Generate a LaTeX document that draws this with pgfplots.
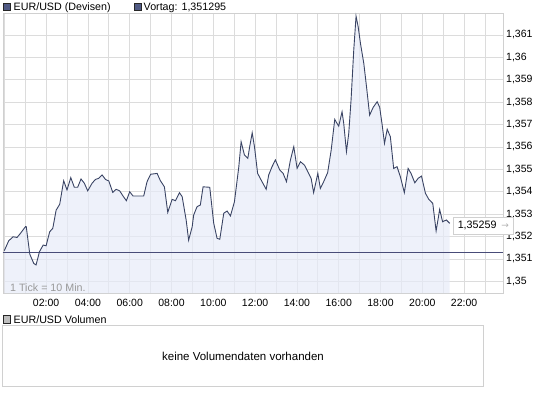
\documentclass[border=0pt]{standalone}
\usepackage{pgfplots}
\pgfplotsset{compat=1.18}
\usepackage{pgfplotstable}
\usepackage{fontspec}
\setmainfont{Liberation Sans}
\newfontfamily\dejavu{DejaVu Sans}
\definecolor{linecol}{RGB}{58,68,100}
\definecolor{fillcol}{RGB}{231,235,248}
\definecolor{prevcol}{RGB}{72,76,120}
\definecolor{gridcol}{RGB}{220,220,220}
\definecolor{framecol}{RGB}{208,208,208}
\definecolor{sqcol}{RGB}{80,90,132}
\definecolor{volsq}{RGB}{190,190,190}

\pgfplotstableread{
h v
0.00 1.35137
0.21 1.35181
0.42 1.35199
0.61 1.35196
0.77 1.35214
1.01 1.35244
1.05 1.35244
1.22 1.35121
1.41 1.35080
1.52 1.35073
1.68 1.35132
1.86 1.35162
2.00 1.35159
2.17 1.35221
2.32 1.35237
2.48 1.35318
2.65 1.35344
2.84 1.35449
3.00 1.35408
3.18 1.35463
3.35 1.35420
3.51 1.35420
3.67 1.35457
3.83 1.35438
3.99 1.35404
4.20 1.35438
4.36 1.35455
4.52 1.35460
4.68 1.35475
4.84 1.35455
5.00 1.35448
5.19 1.35397
5.35 1.35411
5.52 1.35404
5.68 1.35381
5.84 1.35360
6.00 1.35400
6.16 1.35381
6.67 1.35381
6.83 1.35445
7.00 1.35478
7.31 1.35482
7.47 1.35449
7.66 1.35422
7.82 1.35308
8.03 1.35366
8.19 1.35360
8.38 1.35396
8.51 1.35378
8.70 1.35274
8.82 1.35184
8.99 1.35244
9.06 1.35296
9.22 1.35333
9.38 1.35341
9.51 1.35422
9.83 1.35420
10.02 1.35259
10.18 1.35192
10.31 1.35188
10.50 1.35304
10.66 1.35314
10.82 1.35292
11.01 1.35355
11.22 1.35512
11.33 1.35623
11.49 1.35564
11.65 1.35549
11.74 1.35601
11.86 1.35663
11.97 1.35601
12.12 1.35482
12.33 1.35445
12.53 1.35411
12.65 1.35475
12.81 1.35512
12.97 1.35542
13.18 1.35497
13.34 1.35482
13.50 1.35445
13.69 1.35542
13.85 1.35601
14.01 1.35504
14.17 1.35534
14.36 1.35519
14.56 1.35482
14.68 1.35460
14.80 1.35396
15.00 1.35482
15.12 1.35415
15.28 1.35445
15.47 1.35485
15.64 1.35586
15.81 1.35723
15.92 1.35705
16.00 1.35693
16.16 1.35757
16.24 1.35705
16.37 1.35579
16.48 1.35661
16.59 1.35809
16.72 1.36033
16.83 1.36184
16.93 1.36137
17.04 1.36063
17.20 1.35973
17.33 1.35869
17.48 1.35742
17.65 1.35777
17.84 1.35802
17.96 1.35777
18.08 1.35698
18.19 1.35616
18.32 1.35679
18.47 1.35646
18.63 1.35504
18.79 1.35512
18.95 1.35467
19.14 1.35396
19.32 1.35504
19.46 1.35482
19.64 1.35440
19.80 1.35460
19.96 1.35470
20.15 1.35393
20.31 1.35366
20.50 1.35348
20.66 1.35225
20.83 1.35321
20.97 1.35266
21.15 1.35274
21.31 1.35259
}\eurusd

\begin{document}
\begin{tikzpicture}[font=\fontsize{10.7pt}{12pt}\selectfont]
\useasboundingbox (0,0) rectangle (545pt,-395pt);
\begin{axis}[
  at={(2.7pt,-293pt)}, anchor=south west,
  scale only axis, width=500.6pt, height=280pt,
  xmin=-0.077, xmax=23.875,
  ymin=1.34948, ymax=1.36198,
  axis line style={framecol},
  clip=false,
  xtick={2,4,6,8,10,12,14,16,18,20,22},
  xticklabels={02:00,04:00,06:00,08:00,10:00,12:00,14:00,16:00,18:00,20:00,22:00},
  minor xtick={0,1,3,5,7,9,11,13,15,17,19,21,23},
  ytick={1.35,1.351,1.352,1.353,1.354,1.355,1.356,1.357,1.358,1.359,1.36,1.361},
  yticklabels={{1,35},{1,351},{1,352},{1,353},{1,354},{1,355},{1,356},{1,357},{1,358},{1,359},{1,36},{1,361}},
  yticklabel pos=right,
  major tick length=0pt, minor tick length=0pt,
  grid=both,
  major grid style={gridcol, line width=0.8pt},
  minor grid style={gridcol, line width=0.8pt},
  xticklabel style={anchor=north, inner sep=0pt, yshift=-6pt, font=\fontsize{10.5pt}{12pt}\selectfont},
  yticklabel style={anchor=west, inner sep=0pt, xshift=2.7pt, font=\fontsize{10.5pt}{12pt}\selectfont},
]
\addplot[draw=none, fill=fillcol, fill opacity=0.7] table[x=h, y=v] {\eurusd} \closedcycle;
\addplot[prevcol, line width=1pt] coordinates {(-0.077,1.351295) (23.875,1.351295)};
\addplot[linecol, line width=0.9pt] table[x=h, y=v] {\eurusd};
\node[draw=framecol, fill=white, anchor=west, inner xsep=4.5pt, inner ysep=0pt, minimum height=17.5pt, xshift=3.4pt]
  at (axis cs:21.31,1.35249) {1,35259\hspace{5pt}{\color{black!30}\dejavu\fontsize{9pt}{10pt}\selectfont →}};
\node[anchor=base west, inner sep=0pt, text=black!40] at (axis cs:0.27,1.34955) {1 Tick = 10 Min.};
\end{axis}
% top legend
\draw[draw=black!85, fill=sqcol] (3pt,-3pt) rectangle (10.5pt,-10.5pt);
\node[anchor=base west, inner sep=0pt] at (13.5pt,-10.5pt) {EUR/USD (Devisen)};
\draw[draw=black!85, fill=sqcol] (134pt,-3pt) rectangle (141.5pt,-10.5pt);
\node[anchor=base west, inner sep=0pt] at (143.5pt,-10.5pt) {Vortag: 1,351295};
% volume panel
\draw[draw=black!85, fill=volsq] (3pt,-315.5pt) rectangle (10.5pt,-323pt);
\node[anchor=base west, inner sep=0pt] at (13.5pt,-323pt) {EUR/USD Volumen};
\draw[framecol, line width=0.8pt] (2.7pt,-325.8pt) rectangle (483pt,-386pt);
\node[inner sep=0pt, font=\fontsize{11.5pt}{13pt}\selectfont] at (243pt,-356pt) {keine Volumendaten vorhanden};
\end{tikzpicture}
\end{document}
